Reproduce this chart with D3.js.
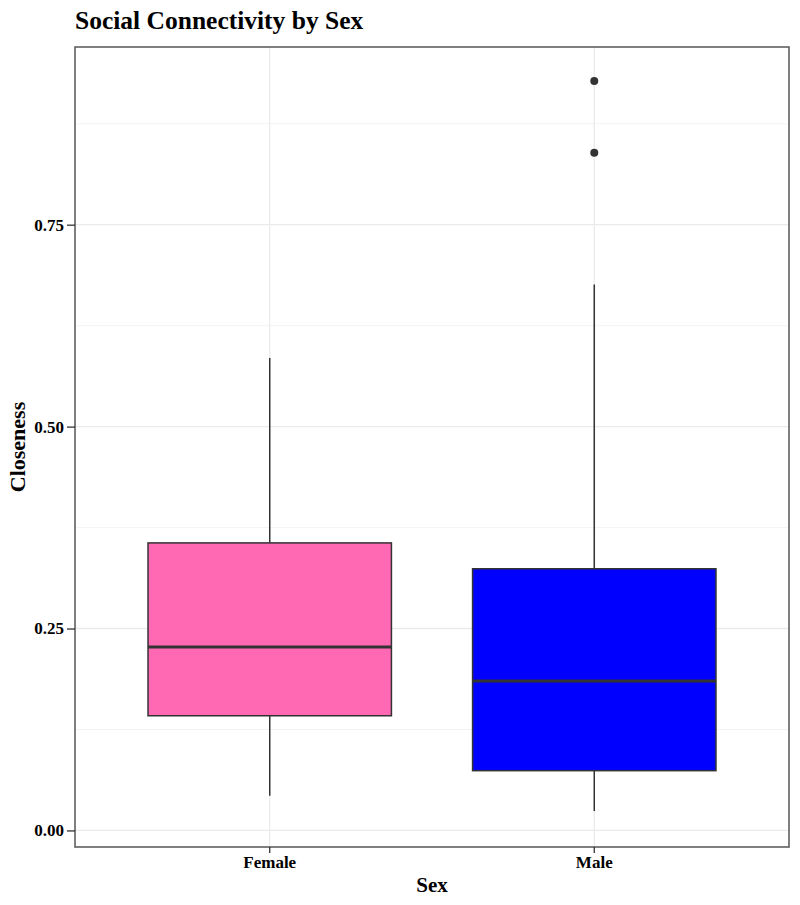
<!DOCTYPE html>
<html>
<head>
<meta charset="utf-8">
<script src="https://cdn.jsdelivr.net/npm/d3@7"></script>
<style>
  body { margin: 0; background: #fff; }
  text { font-family: "Liberation Serif", "Times New Roman", serif; font-weight: bold; }
</style>
</head>
<body>
<div id="chart"></div>
<script>
// box stats
const categories = ["Female", "Male"];
const q1 = [0.142, 0.074];
const medians = [0.227, 0.185];
const q3 = [0.356, 0.324];
const whiskerLow = [0.043, 0.024];
const whiskerHigh = [0.585, 0.676];
const outliers = [[], [0.928, 0.839]];
const fills = ["#ff69b4", "#0000ff"];
const yTicks = [0, 0.25, 0.5, 0.75];
const yMinor = [0.125, 0.375, 0.625, 0.875];

const width = 800, height = 905;
const margin = {top: 47, right: 11, bottom: 58, left: 75};

const svg = d3.select("#chart").append("svg")
    .attr("width", width)
    .attr("height", height);

// ggplot style discrete axis: 0.6 unit expansion each side
const x = d3.scaleBand()
    .domain(categories)
    .range([margin.left, width - margin.right])
    .paddingInner(0)
    .paddingOuter(0.1);

const y = d3.scaleLinear()
    .domain([-0.0205, 0.970])
    .range([height - margin.bottom, margin.top]);

const cx = d => x(d) + x.bandwidth() / 2;
const boxW = x.step() * 0.75;

// grid
const g = svg.append("g");
g.selectAll(".minor").data(yMinor).enter().append("line")
    .attr("x1", margin.left).attr("x2", width - margin.right)
    .attr("y1", d => y(d)).attr("y2", d => y(d))
    .attr("stroke", "#f0f0f0").attr("stroke-width", 0.8);
g.selectAll(".major").data(yTicks).enter().append("line")
    .attr("x1", margin.left).attr("x2", width - margin.right)
    .attr("y1", d => y(d)).attr("y2", d => y(d))
    .attr("stroke", "#ebebeb").attr("stroke-width", 1.3);
g.selectAll(".vmajor").data(categories).enter().append("line")
    .attr("x1", d => cx(d)).attr("x2", d => cx(d))
    .attr("y1", margin.top).attr("y2", height - margin.bottom)
    .attr("stroke", "#ebebeb").attr("stroke-width", 1.3);

// boxes
const boxes = svg.selectAll(".box").data(categories).enter().append("g");
boxes.append("line")
    .attr("x1", d => cx(d)).attr("x2", d => cx(d))
    .attr("y1", (d, i) => y(whiskerHigh[i])).attr("y2", (d, i) => y(q3[i]))
    .attr("stroke", "#333").attr("stroke-width", 1.5);
boxes.append("line")
    .attr("x1", d => cx(d)).attr("x2", d => cx(d))
    .attr("y1", (d, i) => y(q1[i])).attr("y2", (d, i) => y(whiskerLow[i]))
    .attr("stroke", "#333").attr("stroke-width", 1.5);
boxes.append("rect")
    .attr("x", d => cx(d) - boxW / 2)
    .attr("width", boxW)
    .attr("y", (d, i) => y(q3[i]))
    .attr("height", (d, i) => y(q1[i]) - y(q3[i]))
    .attr("fill", (d, i) => fills[i])
    .attr("stroke", "#333").attr("stroke-width", 1.5);
boxes.append("line")
    .attr("x1", d => cx(d) - boxW / 2).attr("x2", d => cx(d) + boxW / 2)
    .attr("y1", (d, i) => y(medians[i])).attr("y2", (d, i) => y(medians[i]))
    .attr("stroke", "#333").attr("stroke-width", 3);
boxes.each(function (d, i) {
    d3.select(this).selectAll("circle").data(outliers[i]).enter().append("circle")
        .attr("cx", cx(d)).attr("cy", v => y(v)).attr("r", 4)
        .attr("fill", "#333");
});

// panel border
svg.append("rect")
    .attr("x", margin.left).attr("y", margin.top)
    .attr("width", width - margin.left - margin.right)
    .attr("height", height - margin.top - margin.bottom)
    .attr("fill", "none").attr("stroke", "#555").attr("stroke-width", 1.5);

// axes
const yAxis = svg.append("g")
    .attr("transform", `translate(${margin.left},0)`)
    .call(d3.axisLeft(y).tickValues(yTicks).tickFormat(d3.format(".2f")).tickSize(8).tickPadding(3));
yAxis.select(".domain").remove();
yAxis.selectAll("line").attr("stroke", "#333").attr("stroke-width", 1.3);
yAxis.selectAll("text").attr("fill", "#000").style("font-size", "17px");

const xAxis = svg.append("g")
    .attr("transform", `translate(0,${height - margin.bottom})`)
    .call(d3.axisBottom(x).tickSize(6).tickPadding(3));
xAxis.select(".domain").remove();
xAxis.selectAll("line").attr("stroke", "#333").attr("stroke-width", 1.3);
xAxis.selectAll("text").attr("fill", "#000").style("font-size", "17px");

// titles
svg.append("text")
    .attr("x", margin.left).attr("y", 29)
    .style("font-size", "25.5px")
    .text("Social Connectivity by Sex");
svg.append("text")
    .attr("x", (margin.left + width - margin.right) / 2).attr("y", 892)
    .attr("text-anchor", "middle")
    .style("font-size", "21px")
    .text("Sex");
svg.append("text")
    .attr("transform", `translate(25,${(margin.top + height - margin.bottom) / 2}) rotate(-90)`)
    .attr("text-anchor", "middle")
    .style("font-size", "22px")
    .text("Closeness");
</script>
</body>
</html>
